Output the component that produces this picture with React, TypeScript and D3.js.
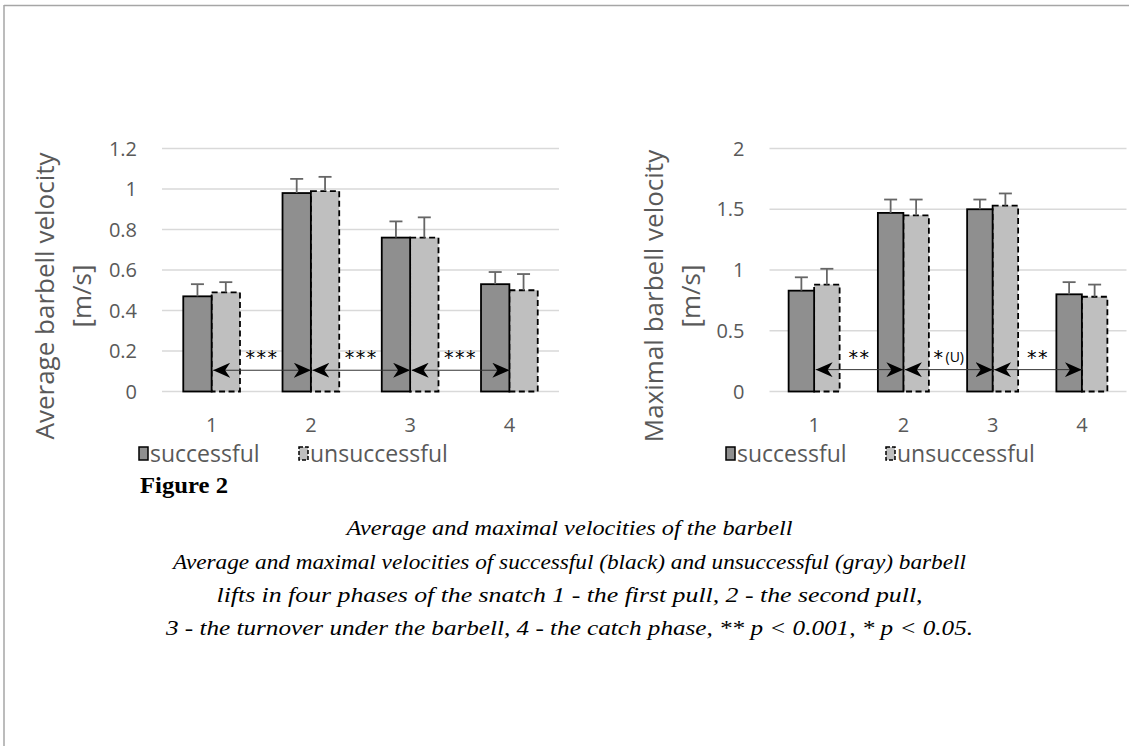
import React from "react";
import * as d3 from "d3";

const categories = ["1", "2", "3", "4"];
const avgSuccess = [0.47, 0.98, 0.76, 0.53];
const avgSuccessErr = [0.06, 0.07, 0.08, 0.06];
const avgUnsuccess = [0.49, 0.99, 0.76, 0.5];
const avgUnsuccessErr = [0.05, 0.07, 0.1, 0.08];
const maxSuccess = [0.83, 1.47, 1.5, 0.8];
const maxSuccessErr = [0.11, 0.11, 0.08, 0.1];
const maxUnsuccess = [0.88, 1.45, 1.53, 0.78];
const maxUnsuccessErr = [0.13, 0.13, 0.1, 0.1];
const avgTicks = [0, 0.2, 0.4, 0.6, 0.8, 1, 1.2];
const maxTicks = [0, 0.5, 1, 1.5, 2];
const avgSig = [
  { from: 0, to: 1, label: "***" },
  { from: 1, to: 2, label: "***" },
  { from: 2, to: 3, label: "***" },
];
const maxSig = [
  { from: 0, to: 1, label: "**" },
  { from: 1, to: 2, label: "*", sub: "(U)" },
  { from: 2, to: 3, label: "**" },
];
const seriesNames = ["successful", "unsuccessful"];
const captionTitle = "Figure 2";
const captionLines = [
  "Average and maximal velocities of the barbell",
  "Average and maximal velocities of successful (black) and unsuccessful (gray) barbell",
  "lifts in four phases of the snatch 1 - the first pull, 2 - the second pull,",
  "3 - the turnover under the barbell, 4 - the catch phase, ** p < 0.001, * p < 0.05.",
];

const FONT = "'Open Sans', sans-serif";
const SERIF = "'Liberation Serif', serif";
const C_S = "#8f8f8f";
const C_U = "#bfbfbf";
const AXIS_TXT = "#595959";

type Sig = { from: number; to: number; label: string; sub?: string };

function Panel(props: {
  x0: number;
  x1: number;
  yMax: number;
  ticks: number[];
  s: number[];
  sErr: number[];
  u: number[];
  uErr: number[];
  sig: Sig[];
  sigY: number;
  titleX: number;
  title: string;
  tickFmt: (v: number) => string;
  legendX: number;
}) {
  const { x0, x1, yMax, ticks, s, sErr, u, uErr, sig, sigY, titleX, title, tickFmt, legendX } = props;
  const x = d3.scaleBand<string>().domain(categories).range([x0, x1]).padding(0);
  const y = d3.scaleLinear().domain([0, yMax]).range([391.5, 148.5]);
  const bw = x.bandwidth() / 3.5;
  const cx = (i: number) => (x(categories[i]) as number) + x.bandwidth() / 2;
  const cap = 6.5;
  const legY = 454;
  return (
    <g>
      {ticks.map((t) => (
        <g key={t}>
          <line x1={x0} x2={x1} y1={y(t)} y2={y(t)} stroke="#d9d9d9" strokeWidth={1.6} />
          <text x={x0 - 25} y={y(t)} dy="0.35em" textAnchor="end" fontFamily={FONT} fontSize={20} fill={AXIS_TXT}>
            {tickFmt(t)}
          </text>
        </g>
      ))}
      {categories.map((c, i) => (
        <g key={c}>
          <rect x={cx(i)} y={y(u[i])} width={bw} height={y(0) - y(u[i])} fill={C_U} stroke="#000" strokeWidth={1.8} strokeDasharray="6,3.5" />
          <rect x={cx(i) - bw} y={y(s[i])} width={bw} height={y(0) - y(s[i])} fill={C_S} stroke="#000" strokeWidth={1.8} />
          <line x1={cx(i) - bw / 2} x2={cx(i) - bw / 2} y1={y(s[i])} y2={y(s[i] + sErr[i])} stroke="#666" strokeWidth={1.8} />
          <line x1={cx(i) - bw / 2 - cap} x2={cx(i) - bw / 2 + cap} y1={y(s[i] + sErr[i])} y2={y(s[i] + sErr[i])} stroke="#666" strokeWidth={1.8} />
          <line x1={cx(i) + bw / 2} x2={cx(i) + bw / 2} y1={y(u[i])} y2={y(u[i] + uErr[i])} stroke="#666" strokeWidth={1.8} />
          <line x1={cx(i) + bw / 2 - cap} x2={cx(i) + bw / 2 + cap} y1={y(u[i] + uErr[i])} y2={y(u[i] + uErr[i])} stroke="#666" strokeWidth={1.8} />
          <text x={cx(i)} y={425} dy="0.35em" textAnchor="middle" fontFamily={FONT} fontSize={20} fill={AXIS_TXT}>
            {c}
          </text>
        </g>
      ))}
      {sig.map((g, k) => {
        const xa = cx(g.from) + 1.5;
        const xb = cx(g.to);
        const yy = y(sigY);
        return (
          <g key={k}>
            <line x1={xa} x2={xb} y1={yy} y2={yy} stroke="#333" strokeWidth={1} markerStart="url(#stealth)" markerEnd="url(#stealth)" />
            <text x={(xa + xb) / 2} y={yy - 6} textAnchor="middle" fontFamily="'DejaVu Sans', sans-serif" fontSize={19} fill="#000" letterSpacing={1.5}>
              {g.label}
              {g.sub ? (
                <tspan fontSize={14} letterSpacing={0} fontFamily={FONT} dx={1} dy={-2}>
                  {g.sub}
                </tspan>
              ) : null}
            </text>
          </g>
        );
      })}
      <text transform={`translate(${titleX},296) rotate(-90)`} textAnchor="middle" fontFamily={FONT} fontSize={26} fill={AXIS_TXT}>
        <tspan x={0} dy="0.35em">{title}</tspan>
        <tspan x={0} dy={37}>[m/s]</tspan>
      </text>
      <g>
        <rect x={legendX} y={legY - 7} width={9} height={13} fill={C_S} stroke="#000" strokeWidth={1.5} />
        <text x={legendX + 11} y={legY} dy="0.35em" fontFamily={FONT} fontSize={23} fill={AXIS_TXT}>
          {seriesNames[0]}
        </text>
        <rect x={legendX + 160} y={legY - 7} width={9} height={13} fill={C_U} stroke="#000" strokeWidth={1.5} strokeDasharray="4,2" />
        <text x={legendX + 171} y={legY} dy="0.35em" fontFamily={FONT} fontSize={23} fill={AXIS_TXT}>
          {seriesNames[1]}
        </text>
      </g>
    </g>
  );
}

export default function App() {
  const W = 1139;
  const H = 746;
  const captionY = [527, 561, 594, 627];
  const captionW = [446, 793, 706, 807];
  return (
    <svg width={W} height={H} style={{ position: "absolute", left: 0, top: 0, background: "#fff" }}>
      <defs>
        <marker id="stealth" viewBox="0 0 17 15" refX={17} refY={7.5} markerWidth={17} markerHeight={15} markerUnits="userSpaceOnUse" orient="auto-start-reverse">
          <path d="M0,0 L17,7.5 L0,15 L5,7.5 Z" fill="#000" />
        </marker>
      </defs>
      <rect x={0} y={0} width={W} height={H} fill="#fff" />
      <line x1={4} x2={1129} y1={5.5} y2={5.5} stroke="#a6a6a6" strokeWidth={1.5} />
      <line x1={4} x2={4} y1={5} y2={H} stroke="#a6a6a6" strokeWidth={1.5} />
      <Panel
        x0={162}
        x1={559}
        yMax={1.2}
        ticks={avgTicks}
        s={avgSuccess}
        sErr={avgSuccessErr}
        u={avgUnsuccess}
        uErr={avgUnsuccessErr}
        sig={avgSig}
        sigY={0.105}
        titleX={45}
        title="Average barbell velocity"
        tickFmt={(v) => String(+v.toFixed(1))}
        legendX={139}
      />
      <Panel
        x0={769.5}
        x1={1126.5}
        yMax={2}
        ticks={maxTicks}
        s={maxSuccess}
        sErr={maxSuccessErr}
        u={maxUnsuccess}
        uErr={maxUnsuccessErr}
        sig={maxSig}
        sigY={0.18}
        titleX={654}
        title="Maximal barbell velocity"
        tickFmt={(v) => String(+v.toFixed(1))}
        legendX={726}
      />
      <text x={140} y={485} dy="0.35em" fontFamily={SERIF} fontWeight="bold" fontSize={24} fill="#000" textLength={88} lengthAdjust="spacingAndGlyphs">
        {captionTitle}
      </text>
      {captionLines.map((l, i) => (
        <text key={i} x={569.5} y={captionY[i]} dy="0.35em" textAnchor="middle" fontFamily={SERIF} fontStyle="italic" fontSize={22} fill="#000" textLength={captionW[i]} lengthAdjust="spacingAndGlyphs">
          {l}
        </text>
      ))}
    </svg>
  );
}
